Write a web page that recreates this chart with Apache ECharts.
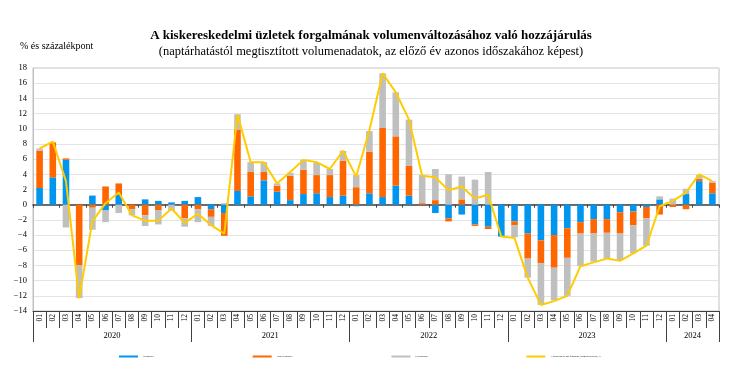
<!DOCTYPE html>
<html><head><meta charset="utf-8">
<script src="https://cdn.jsdelivr.net/npm/echarts@6.0.0/dist/echarts.min.js"></script>
<style>html,body{margin:0;padding:0;background:#fff}#c{width:730px;height:388px}</style>
</head><body><div id="c"></div>
<script>
const months = [
 '01','02','03','04','05','06','07','08','09','10','11','12',
 '01','02','03','04','05','06','07','08','09','10','11','12',
 '01','02','03','04','05','06','07','08','09','10','11','12',
 '01','02','03','04','05','06','07','08','09','10','11','12',
 '01','02','03','04'];
const years = ['2020','2021','2022','2023','2024'];
const yearLabelIndex = [5, 17, 29, 41, 49];
const yearStartIndex = [0, 12, 24, 36, 48];

const elelmiszer = [
 2.2, 3.6, 5.9, 0, 1.2, -0.7, 1.3, 0, 0.7, 0.5, 0.3, 0.5,
 1.0, -0.6, -1.1, 1.8, 1.1, 3.2, 1.7, 0.6, 1.4, 1.5, 1.0, 1.2,
 -0.2, 1.5, 1.0, 2.5, 1.2, 0, -1.1, -1.8, -1.3, -2.6, -2.9, -4.2,
 -2.2, -3.8, -4.7, -4.0, -3.1, -2.3, -1.9, -1.9, -1.0, -0.9, -0.3, 0.7,
 0, 1.4, 3.1, 1.5];
const nemElelmiszer = [
 4.9, 4.6, 0.2, -8.0, -0.4, 2.4, 1.5, -0.6, -1.4, -0.7, 0, -1.8,
 -0.6, -1.0, -3.0, 8.1, 3.2, 1.1, 0.8, 3.2, 3.2, 2.4, 2.9, 4.6,
 2.3, 5.5, 9.1, 6.5, 3.9, 0.2, 0.6, -0.4, 0.7, -0.2, -0.3, 0,
 -0.5, -3.3, -3.0, -4.3, -3.9, -1.5, -1.9, -1.8, -2.8, -1.8, -1.5, -1.3,
 -0.3, -0.6, 0.3, 1.4];
const uzemanyag = [
 0.3, 0, -3.0, -4.3, -2.9, -1.6, -1.1, -0.8, -1.4, -1.9, -0.8, -1.1,
 -1.7, -1.2, 0.2, 2.0, 1.3, 1.3, 0.3, 0.4, 1.3, 1.6, 0.8, 1.3,
 1.6, 2.7, 7.2, 5.8, 6.1, 3.7, 4.1, 4.0, 3.0, 3.3, 4.3, 0,
 -1.6, -2.5, -5.5, -4.3, -5.0, -4.3, -3.7, -3.4, -3.5, -3.7, -3.6, 0.4,
 0.8, 0.7, 0.5, 0.2];
const osszesen = [
 7.4, 8.3, 3.1, -12.3, -2.2, 0.2, 1.6, -1.4, -2.1, -2.1, -0.5, -2.4,
 -1.2, -2.7, -3.8, 11.9, 5.6, 5.6, 2.8, 4.3, 5.9, 5.6, 4.7, 7.1,
 3.7, 9.8, 17.3, 14.8, 11.2, 3.8, 3.6, 1.9, 2.4, 0.8, 1.3, -4.2,
 -4.4, -9.6, -13.2, -12.7, -12.0, -8.1, -7.6, -7.1, -7.4, -6.4, -5.4, -0.2,
 0.5, 1.6, 4.0, 3.1];

const seriesNames = ['Élelmiszer', 'Nem élelmiszer', 'Üzemanyag', 'A kiskereskedelmi forgalom volumenváltozása, %'];
const serif = '"Liberation Serif", "Times New Roman", serif';

const chart = echarts.init(document.getElementById('c'), null, {renderer: 'canvas'});
chart.setOption({
  animation: false,
  backgroundColor: '#ffffff',
  title: [
    {
      text: 'A kiskereskedelmi üzletek forgalmának volumenváltozásához való hozzájárulás',
      subtext: '(naptárhatástól megtisztított volumenadatok, az előző év azonos időszakához képest)',
      left: 371, top: 29, textAlign: 'center', itemGap: 3, padding: 0,
      textStyle: {fontFamily: serif, fontSize: 13, fontWeight: 'bold', color: '#000'},
      subtextStyle: {fontFamily: serif, fontSize: 12.5, color: '#000'}
    },
    {
      text: '% és százalékpont', left: 20, top: 41, padding: 0,
      textStyle: {fontFamily: serif, fontSize: 10, fontWeight: 'normal', color: '#000'}
    }
  ],
  legend: {
    data: seriesNames, left: 119, top: 355, padding: 0,
    itemGap: 99, itemWidth: 19, itemHeight: 2, icon: 'rect',
    textStyle: {fontSize: 2.5, color: '#000', fontFamily: serif}
  },
  grid: {left: 33, right: 11, top: 68, bottom: 77, show: true, borderColor: '#c0c0c0', borderWidth: 1},
  xAxis: [
    {
      type: 'category', data: months, position: 'bottom',
      axisLine: {onZero: true, lineStyle: {color: '#404040', width: 1.5}},
      axisTick: {show: true, length: 3, lineStyle: {color: '#404040'}},
      axisLabel: {show: false}, splitLine: {show: false}
    },
    {
      type: 'category', data: months, position: 'bottom',
      axisLine: {onZero: false, lineStyle: {color: '#404040', width: 1}},
      axisTick: {show: true, length: 17, interval: 0, lineStyle: {color: '#404040'}},
      axisLabel: {show: true, interval: 0, rotate: 90, margin: 3, fontSize: 7.5, fontFamily: serif, color: '#000'},
      splitLine: {show: false}
    },
    {
      type: 'category', data: months, position: 'bottom',
      axisLine: {show: false, onZero: false},
      axisTick: {show: true, length: 31, lineStyle: {color: '#404040'},
        interval: function (i) { return yearStartIndex.indexOf(i) >= 0; }},
      axisLabel: {show: true, margin: 20, fontSize: 8.5, fontFamily: serif, color: '#000',
        padding: [0, 0, 0, 13],
        interval: function (i) { return yearLabelIndex.indexOf(i) >= 0; },
        formatter: function (v, i) { const k = yearLabelIndex.indexOf(i); return k >= 0 ? years[k] : ''; }},
      splitLine: {show: false}
    }
  ],
  yAxis: {
    type: 'value', min: -14, max: 18, interval: 2,
    axisLine: {show: true, lineStyle: {color: '#c0c0c0'}},
    axisTick: {show: false},
    axisLabel: {fontSize: 8.5, fontFamily: serif, color: '#000', margin: 6,
      formatter: function (v) { return String(v).replace('-', '−'); }},
    splitLine: {lineStyle: {color: '#e3e3e3', width: 1}}
  },
  series: [
    {name: seriesNames[0], type: 'bar', stack: 'a', data: elelmiszer, barWidth: '50%', itemStyle: {color: '#0096f0'}},
    {name: seriesNames[1], type: 'bar', stack: 'a', data: nemElelmiszer, itemStyle: {color: '#ff6600'}},
    {name: seriesNames[2], type: 'bar', stack: 'a', data: uzemanyag, itemStyle: {color: '#bfbfbf'}},
    {name: seriesNames[3], type: 'line', data: osszesen, showSymbol: false, symbol: 'none', z: 5,
      lineStyle: {color: '#ffcc00', width: 2}, itemStyle: {color: '#ffcc00'}}
  ]
});
</script>
</body></html>
